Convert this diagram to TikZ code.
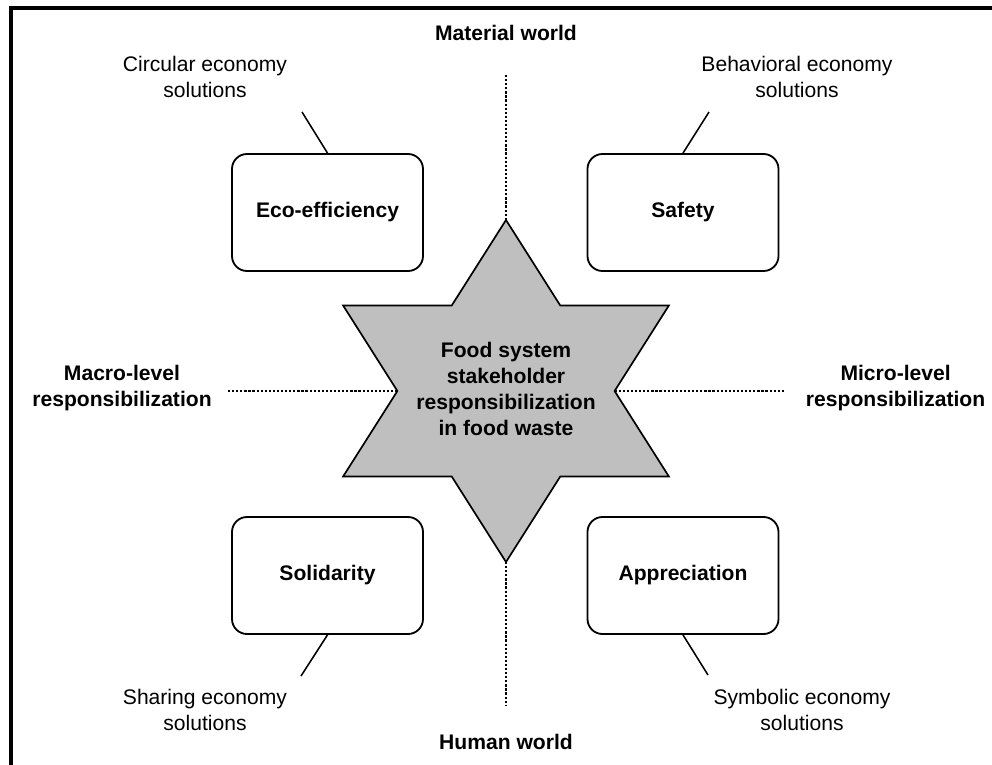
\documentclass[tikz,border=0pt]{standalone}
\usepackage{fontspec}
\setmainfont{Liberation Sans}

\begin{document}
\begin{tikzpicture}[line join=miter,
valblock/.style={draw,rounded corners=0.375cm,minimum width=4.775cm,minimum height=2.925cm,line width=1.3pt,font=\bfseries},
solnote/.style={align=center,inner sep=1pt},
axislabel/.style={align=center,inner sep=1pt,font=\bfseries},
divider/.style={line width=2pt,dash pattern=on 1.6pt off 1.3pt},
leader/.style={line width=1.1pt},
hexstar/.style={draw,fill=black!25,line width=1.2pt}]

\useasboundingbox (-12.65,-9.325) rectangle (12.15,9.775);
\fontsize{15}{18.5}\selectfont

\draw[line width=2.6pt] (-12.375,-9.4) -- (-12.375,9.575) -- (12.2,9.575);

\draw[hexstar] (0,4.275) coordinate (tipN) -- (1.357,2.1375) -- (4.072,2.1375) -- (2.715,0) coordinate (tipE)
  -- (4.072,-2.1375) -- (1.357,-2.1375) -- (0,-4.275) coordinate (tipS) -- (-1.357,-2.1375)
  -- (-4.072,-2.1375) -- (-2.715,0) coordinate (tipW) -- (-4.072,2.1375) -- (-1.357,2.1375) -- cycle;
\node[axislabel] (core) at (0,0.05) {Food system\\stakeholder\\responsibilization\\in food waste};

\node[valblock] (eco) at (-4.4625,4.4625) {Eco-efficiency};
\node[valblock] (safe) at (4.425,4.4625) {Safety};
\node[valblock] (soli) at (-4.4625,-4.6125) {Solidarity};
\node[valblock] (appr) at (4.425,-4.6125) {Appreciation};

\node[solnote] (circ) at (-7.525,7.85) {Circular economy\\solutions};
\node[solnote] (behav) at (7.275,7.85) {Behavioral economy\\solutions};
\node[solnote] (share) at (-7.525,-7.975) {Sharing economy\\solutions};
\node[solnote] (symb) at (7.4,-7.975) {Symbolic economy\\solutions};

\coordinate (ecoEnd) at (-5.1,6.975);
\coordinate (safeEnd) at (5.075,6.975);
\coordinate (soliEnd) at (-5.125,-7.125);
\coordinate (apprEnd) at (5.05,-7.1);
\draw[leader] (eco.north) -- (ecoEnd);
\draw[leader] (safe.north) -- (safeEnd);
\draw[leader] (soli.south) -- (soliEnd);
\draw[leader] (appr.south) -- (apprEnd);

\node[axislabel] (matw) at (0,8.95) {Material world};
\node[axislabel] (humw) at (0,-8.775) {Human world};
\node[axislabel] (macro) at (-9.6,0.075) {Macro-level\\responsibilization};
\node[axislabel] (micro) at (9.74,0.075) {Micro-level\\responsibilization};

\coordinate (matEnd) at (0,7.9);
\coordinate (humEnd) at (0,-7.85);
\coordinate (macEnd) at (-6.95,0);
\coordinate (micEnd) at (6.975,0);
\draw[divider] (matEnd) -- (tipN);
\draw[divider] (tipS) -- (humEnd);
\draw[divider] (macEnd) -- (tipW);
\draw[divider] (tipE) -- (micEnd);

\end{tikzpicture}
\end{document}
